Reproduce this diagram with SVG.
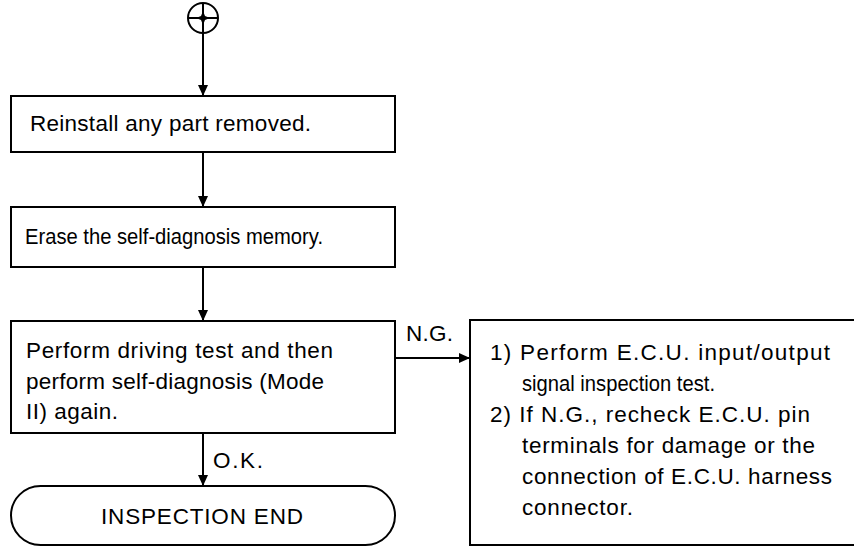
<svg xmlns="http://www.w3.org/2000/svg" width="854" height="546" viewBox="0 0 854 546">
<defs>
<marker id="ah" markerWidth="12" markerHeight="12" refX="11" refY="5" orient="auto" markerUnits="userSpaceOnUse">
<path d="M0,0 L11,5 L0,10 Z" fill="#000"/>
</marker>
<style>
.box{fill:#fff;stroke:#000;stroke-width:2}
.ln{fill:none;stroke:#000;stroke-width:2}
.t{font-family:"Liberation Sans",Arial,sans-serif;font-size:22.5px;fill:#000}
</style>
</defs>
<rect width="854" height="546" fill="#fff"/>
<g id="start">
<circle cx="203" cy="18" r="15" class="ln"/>
<line x1="188" y1="18" x2="218" y2="18" class="ln" stroke-width="1.5"/>
<line x1="203" y1="3" x2="203" y2="33" class="ln" stroke-width="1.5"/>
<path d="M203,11 L205,16 L210,18 L205,20 L203,25 L201,20 L196,18 L201,16 Z" fill="#000"/>
</g>
<g id="connectors">
<line x1="203" y1="33" x2="203" y2="96" class="ln" marker-end="url(#ah)"/>
<line x1="203" y1="152" x2="203" y2="207" class="ln" marker-end="url(#ah)"/>
<line x1="203" y1="267" x2="203" y2="321" class="ln" marker-end="url(#ah)"/>
<line x1="203" y1="433" x2="203" y2="486" class="ln" marker-end="url(#ah)"/>
<line x1="395" y1="358" x2="470" y2="358" class="ln" marker-end="url(#ah)"/>
<text x="213" y="468" class="t" textLength="50" lengthAdjust="spacing">O.K.</text>
<text x="406" y="341" class="t" textLength="47" lengthAdjust="spacing">N.G.</text>
</g>
<g id="box1">
<rect x="11" y="96" width="384" height="56" class="box"/>
<text x="30" y="131" class="t" textLength="281" lengthAdjust="spacing">Reinstall any part removed.</text>
</g>
<g id="box2">
<rect x="11" y="207" width="384" height="60" class="box"/>
<text x="25" y="244" class="t" textLength="298" lengthAdjust="spacingAndGlyphs">Erase the self-diagnosis memory.</text>
</g>
<g id="box3">
<rect x="11" y="321" width="384" height="112" class="box"/>
<text x="26" y="358" class="t" textLength="307" lengthAdjust="spacing">Perform driving test and then</text>
<text x="26" y="389" class="t" textLength="298" lengthAdjust="spacing">perform self-diagnosis (Mode</text>
<text x="26" y="419" class="t" textLength="92" lengthAdjust="spacing">II) again.</text>
</g>
<g id="end">
<rect x="11" y="486" width="384" height="59" rx="29.5" ry="29.5" class="box"/>
<text x="101" y="524" class="t" textLength="202" lengthAdjust="spacing">INSPECTION  END</text>
</g>
<g id="ngbox">
<rect x="470" y="320" width="390" height="225" class="box"/>
<text x="490" y="360" class="t" textLength="340" lengthAdjust="spacing">1) Perform E.C.U. input/output</text>
<text x="522" y="391" class="t" textLength="193" lengthAdjust="spacingAndGlyphs">signal inspection test.</text>
<text x="490" y="422" class="t" textLength="320" lengthAdjust="spacing">2) If N.G., recheck E.C.U. pin</text>
<text x="522" y="453" class="t" textLength="293" lengthAdjust="spacing">terminals for damage or the</text>
<text x="522" y="484" class="t" textLength="310" lengthAdjust="spacing">connection of E.C.U. harness</text>
<text x="522" y="515" class="t" textLength="111" lengthAdjust="spacing">connector.</text>
</g>
</svg>
